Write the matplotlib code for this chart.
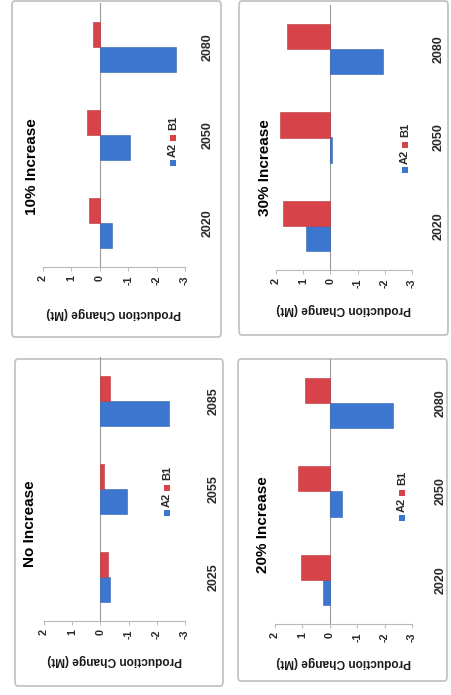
import matplotlib
matplotlib.use("Agg")
import matplotlib.pyplot as plt
from matplotlib.patches import Rectangle, FancyBboxPatch

plt.rcParams['font.family'] = ['Liberation Sans', 'DejaVu Sans']

# ---- data -------------------------------------------------------------
series_names = ["A2", "B1"]
years_no_increase = ["2025", "2055", "2085"]
years_increase = ["2020", "2050", "2080"]

a2_no_increase = [-0.35, -0.95, -2.45]
b1_no_increase = [-0.28, -0.13, -0.35]

a2_10pct = [-0.42, -1.06, -2.68]
b1_10pct = [0.37, 0.45, 0.25]

a2_20pct = [0.25, -0.45, -2.30]
b1_20pct = [1.04, 1.15, 0.90]

a2_30pct = [0.89, -0.05, -1.93]
b1_30pct = [1.74, 1.85, 1.60]

value_ticks = [2, 1, 0, -1, -2, -3]
value_label = "Production Change (Mt)"

# ---- styling ----------------------------------------------------------
W, H = 451, 695
BLUE = "#3c76cf"
RED = "#d8434a"
FRAME = "#c4c4c4"
AXIS = "#b8b8b8"
TEXT = "#1a1a1a"


def fx(x):
    return x / W


def fy(y):
    return 1 - y / H


def rect(x0, y0, x1, y1):
    return [fx(x0), fy(y1), (x1 - x0) / W, (y1 - y0) / H]


fig = plt.figure(figsize=(W / 100, H / 100), dpi=100)
fig.patch.set_facecolor("white")

# The sheet is laid out turned a quarter turn: value axis runs left-right
# (2 at left, -3 at right), categories run bottom-to-top.
panels = [
    dict(title="10% Increase", years=years_increase, a2=a2_10pct, b1=b1_10pct,
         frame=(12, 1, 221, 337), plot=(43, 3, 185, 267),
         title_xy=(32, 167), legend_xy=(173, 137), label_y=313, cat_pad=12),
    dict(title="30% Increase", years=years_increase, a2=a2_30pct, b1=b1_30pct,
         frame=(239, 1, 448, 335), plot=(276, 5, 412, 270),
         title_xy=(265, 168), legend_xy=(405, 144), label_y=309, cat_pad=15),
    dict(title="No Increase", years=years_no_increase, a2=a2_no_increase, b1=b1_no_increase,
         frame=(15, 359, 223, 686), plot=(44, 357, 185, 621),
         title_xy=(30, 524), legend_xy=(167, 487), label_y=660, cat_pad=16),
    dict(title="20% Increase", years=years_increase, a2=a2_20pct, b1=b1_20pct,
         frame=(238, 359, 447, 681), plot=(275, 359, 412, 624),
         title_xy=(263, 525), legend_xy=(402, 492), label_y=662, cat_pad=16),
]

bar_h = 1 / 3.5  # 150% gap width, no overlap

for p in panels:
    x0, y0, x1, y1 = p["frame"]
    fig.patches.append(FancyBboxPatch(
        (fx(x0), fy(y1)), (x1 - x0) / W, (y1 - y0) / H,
        boxstyle="round,pad=0,rounding_size=0.006",
        transform=fig.transFigure, facecolor="none",
        edgecolor=FRAME, linewidth=1.3, zorder=-5))

    ax = fig.add_axes(rect(*p["plot"]))
    ax.set_facecolor("none")
    pos = list(range(len(p["years"])))
    ax.barh([c - bar_h / 2 for c in pos], p["a2"], height=bar_h,
            color=BLUE, edgecolor="#2f62b3", linewidth=0.4, zorder=3)
    ax.barh([c + bar_h / 2 for c in pos], p["b1"], height=bar_h,
            color=RED, edgecolor="#b8353b", linewidth=0.4, zorder=3)
    ax.axvline(0, color="#9a9a9a", linewidth=0.8, zorder=2)

    ax.set_xlim(2, -3)
    ax.set_ylim(-0.5, len(pos) - 0.5)

    for side in ("top", "left", "right"):
        ax.spines[side].set_visible(False)
    ax.spines["bottom"].set_color(AXIS)
    ax.spines["bottom"].set_linewidth(0.8)

    ax.set_xticks(value_ticks)
    ax.set_xticklabels([str(v) for v in value_ticks], rotation=90,
                       va="top", ha="center", fontweight="bold")
    ax.tick_params(axis="x", length=3, width=0.7, color=AXIS,
                   labelsize=7.8, labelcolor="#2a2a2a", pad=3)

    ax.yaxis.tick_right()
    ax.set_yticks(pos)
    ax.set_yticklabels(p["years"], rotation=90, va="center", ha="left",
                       fontweight="bold")
    ax.tick_params(axis="y", length=0, labelsize=9, labelcolor="#2a2a2a",
                   pad=p["cat_pad"])

    # scenario title
    tx, ty = p["title_xy"]
    fig.text(fx(tx), fy(ty), p["title"], rotation=90, ha="center",
             va="center", fontsize=11, fontweight="bold", color="black")

    # value-axis caption
    px0, _, px1, _ = p["plot"]
    fig.text(fx((px0 + px1) / 2), fy(p["label_y"]), value_label,
             rotation=180, ha="center", va="center", fontsize=8.6,
             fontweight="bold", color=TEXT)

    # legend, reading bottom-to-top
    lx, ly = p["legend_xy"]
    sq = 6
    for off, col in ((26, BLUE), (1, RED)):
        fig.patches.append(Rectangle(
            (fx(lx - sq / 2), fy(ly + off + sq / 2)), sq / W, sq / H,
            transform=fig.transFigure, facecolor=col, edgecolor="none",
            zorder=5))
    for off, name in ((13, series_names[0]), (-14, series_names[1])):
        fig.text(fx(lx), fy(ly + off), name, rotation=90, ha="center",
                 va="center", fontsize=8, fontweight="bold", color="#2a2a2a")

fig.savefig("out.png", dpi=100, facecolor="white")
